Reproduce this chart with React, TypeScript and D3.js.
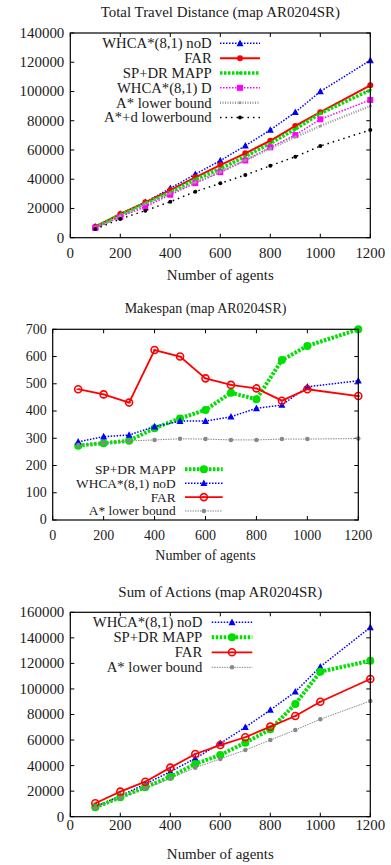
import React from 'react';
import * as d3 from 'd3';

// number of agents (x)
const agents = [100, 200, 300, 400, 500, 600, 700, 800, 900, 1000, 1200];

// Total Travel Distance
const distWhcaNoD = [7500, 16200, 24200, 33800, 43400, 52700, 62900, 73700, 85800, 100000, 121300];
const distFar = [7500, 16200, 24200, 32600, 41300, 49700, 57700, 66300, 76400, 85800, 104200];
const distSpdr = [7200, 15500, 23500, 31000, 39800, 47200, 55500, 64500, 74200, 85000, 101000];
const distWhcaD = [6600, 14200, 21200, 29400, 37300, 44800, 52800, 61800, 70200, 81000, 94200];
const distAstar = [7000, 14800, 23000, 30400, 38000, 45000, 53000, 61000, 68800, 76400, 90100];
const distAstarD = [5900, 12800, 18500, 24600, 31500, 37200, 42900, 49200, 55400, 62700, 73700];

// Makespan
const mkSpdr = [273, 282, 291, 337, 373, 404, 467, 443, 587, 639, 700];
const mkWhcaNoD = [287, 306, 312, 343, 363, 363, 379, 410, 422, 489, 511];
const mkFar = [480, 461, 431, 624, 600, 520, 496, 483, 438, 480, 455];
const mkAstar = [275, 283, 290, 294, 298, 297, 294, 294, 297, 297, 299];

// Sum of Actions
const actWhcaNoD = [7800, 16200, 25600, 35200, 45700, 57400, 70000, 83500, 97800, 117400, 148200];
const actSpdr = [7400, 15200, 23000, 31300, 41300, 48300, 57900, 68400, 88200, 113500, 122100];
const actFar = [10500, 19600, 27400, 38400, 49100, 56100, 62200, 70500, 78800, 90000, 107800];
const actAstar = [7000, 14900, 22200, 30000, 38400, 45200, 52200, 60000, 67900, 76300, 90600];

const xTicks = [0, 200, 400, 600, 800, 1000, 1200];

type Marker = 'tri' | 'dot' | 'ring' | 'square';
interface Series {
  name: string;
  values: number[];
  color: string;
  width: number;
  dash: string | null;
  marker: Marker;
  size: number;
}

interface PanelCfg {
  title: string;
  series: Series[];
  yMax: number;
  yStep: number;
  x0: number; x1: number; y0: number; y1: number;
  titleY: number; tickY: number; labelY: number;
  legX: number; legL0: number; legL1: number; legY: number; legStep: number;
  fs: number; legFs: number;
}

const FONT = '"Liberation Serif", "Times New Roman", serif';
const SX = 1.03;

function Txt({x, y, anchor, size, children}: any) {
  return (
    <text transform={`translate(${x},${y}) scale(${SX},1)`} textAnchor={anchor}
          dominantBaseline="central" fontFamily={FONT} fontSize={size} fill="#1a1a1a">
      {children}
    </text>
  );
}

function drawMarker(m: Marker, x: number, y: number, color: string, s: number, key: any) {
  if (m === 'tri') {
    const h = s * 0.9;
    return <path key={key} d={`M${x},${y - h * 0.6}L${x + s / 2},${y + h * 0.45}L${x - s / 2},${y + h * 0.45}Z`} fill={color}/>;
  }
  if (m === 'square') {
    return <rect key={key} x={x - s / 2} y={y - s / 2} width={s} height={s} fill={color}/>;
  }
  if (m === 'ring') {
    return (
      <g key={key}>
        <circle cx={x} cy={y} r={s / 2} fill="none" stroke={color} strokeWidth={1.6}/>
        <line x1={x - s / 4} x2={x + s / 4} y1={y} y2={y} stroke={color} strokeWidth={1.2}/>
      </g>
    );
  }
  return <circle key={key} cx={x} cy={y} r={s / 2} fill={color}/>;
}

function Panel({cfg}: {cfg: PanelCfg}) {
  const x = d3.scaleLinear().domain([0, 1200]).range([cfg.x0, cfg.x1]);
  const y = d3.scaleLinear().domain([0, cfg.yMax]).range([cfg.y1, cfg.y0]);
  const yTicks = d3.range(0, cfg.yMax + 1, cfg.yStep);
  const line = d3.line<number>().x((_, i) => x(agents[i])).y(d => y(d));
  const tl = 4;
  const legMid = (cfg.legL0 + cfg.legL1) / 2;
  return (
    <g>
      <Txt x={(cfg.x0 + cfg.x1) / 2} y={cfg.titleY} anchor="middle" size={cfg.fs}>{cfg.title}</Txt>
      {/* ticks */}
      {xTicks.map(t => (
        <g key={'x' + t}>
          <line x1={x(t)} x2={x(t)} y1={cfg.y1} y2={cfg.y1 - tl} stroke="#000"/>
          <line x1={x(t)} x2={x(t)} y1={cfg.y0} y2={cfg.y0 + tl} stroke="#000"/>
          <Txt x={x(t)} y={cfg.tickY} anchor="middle" size={cfg.fs}>{t}</Txt>
        </g>
      ))}
      {yTicks.map(t => (
        <g key={'y' + t}>
          <line x1={cfg.x0} x2={cfg.x0 + tl} y1={y(t)} y2={y(t)} stroke="#000"/>
          <line x1={cfg.x1} x2={cfg.x1 - tl} y1={y(t)} y2={y(t)} stroke="#000"/>
          <Txt x={cfg.x0 - 6} y={y(t)} anchor="end" size={cfg.fs}>{t}</Txt>
        </g>
      ))}
      <Txt x={(cfg.x0 + cfg.x1) / 2} y={cfg.labelY} anchor="middle" size={cfg.fs}>Number of agents</Txt>
      {/* series */}
      {cfg.series.map((s, si) => (
        <g key={s.name}>
          <path d={line(s.values) || ''} fill="none" stroke={s.color} strokeWidth={s.width}
                strokeDasharray={s.dash || undefined}/>
          {s.values.map((v, i) => drawMarker(s.marker, x(agents[i]), y(v), s.color, s.size, i))}
          {/* legend */}
          <Txt x={cfg.legX} y={cfg.legY + si * cfg.legStep} anchor="end" size={cfg.legFs}>{s.name}</Txt>
          <line x1={cfg.legL0} x2={cfg.legL1} y1={cfg.legY + si * cfg.legStep} y2={cfg.legY + si * cfg.legStep}
                stroke={s.color} strokeWidth={s.width} strokeDasharray={s.dash || undefined}/>
          {drawMarker(s.marker, legMid, cfg.legY + si * cfg.legStep, s.color, s.size, 'leg')}
        </g>
      ))}
      <rect x={cfg.x0} y={cfg.y0} width={cfg.x1 - cfg.x0} height={cfg.y1 - cfg.y0} fill="none" stroke="#000" strokeWidth={1.2}/>
    </g>
  );
}

const BLUE = '#0000ff';
const RED = '#ff0000';
const GREEN = '#00e000';
const MAGENTA = '#ff00ff';
const GRAY = '#888888';

const panels: PanelCfg[] = [
  {
    title: 'Total Travel Distance (map AR0204SR)',
    series: [
      {name: 'WHCA*(8,1) noD', values: distWhcaNoD, color: BLUE, width: 1.5, dash: '1.5,1.5', marker: 'tri', size: 7},
      {name: 'FAR', values: distFar, color: RED, width: 2, dash: null, marker: 'dot', size: 6},
      {name: 'SP+DR MAPP', values: distSpdr, color: GREEN, width: 3.5, dash: '2.5,1.5', marker: 'dot', size: 3},
      {name: 'WHCA*(8,1) D', values: distWhcaD, color: MAGENTA, width: 1.5, dash: '1.5,1.5', marker: 'square', size: 6},
      {name: 'A* lower bound', values: distAstar, color: '#999999', width: 2.5, dash: '1,1.5', marker: 'dot', size: 3},
      {name: 'A*+d lowerbound', values: distAstarD, color: '#000000', width: 1.5, dash: '1.5,4', marker: 'dot', size: 4},
    ],
    yMax: 140000, yStep: 20000,
    x0: 70.3, x1: 370.3, y0: 33, y1: 237.7,
    titleY: 12, tickY: 253, labelY: 275,
    legX: 211.7, legL0: 220, legL1: 260, legY: 43.3, legStep: 14.85,
    fs: 14.5, legFs: 14.3,
  },
  {
    title: 'Makespan (map AR0204SR)',
    series: [
      {name: 'SP+DR MAPP', values: mkSpdr, color: GREEN, width: 4, dash: '2.5,1.5', marker: 'dot', size: 8},
      {name: 'WHCA*(8,1) noD', values: mkWhcaNoD, color: BLUE, width: 1.5, dash: '1.5,1.5', marker: 'tri', size: 7},
      {name: 'FAR', values: mkFar, color: RED, width: 1.8, dash: null, marker: 'ring', size: 7},
      {name: 'A* lower bound', values: mkAstar, color: GRAY, width: 1, dash: '1.5,1', marker: 'dot', size: 4.5},
    ],
    yMax: 700, yStep: 100,
    x0: 52.7, x1: 358.3, y0: 329.3, y1: 520,
    titleY: 309, tickY: 536, labelY: 556,
    legX: 175.7, legL0: 185, legL1: 222.7, legY: 469.3, legStep: 13.9,
    fs: 13.6, legFs: 13,
  },
  {
    title: 'Sum of Actions (map AR0204SR)',
    series: [
      {name: 'WHCA*(8,1) noD', values: actWhcaNoD, color: BLUE, width: 1.5, dash: '1.5,1.5', marker: 'tri', size: 7},
      {name: 'SP+DR MAPP', values: actSpdr, color: GREEN, width: 4, dash: '2.5,1.5', marker: 'dot', size: 8},
      {name: 'FAR', values: actFar, color: RED, width: 1.8, dash: null, marker: 'ring', size: 7},
      {name: 'A* lower bound', values: actAstar, color: GRAY, width: 1, dash: '1.5,1', marker: 'dot', size: 4.5},
    ],
    yMax: 160000, yStep: 20000,
    x0: 70.3, x1: 370.3, y0: 612.3, y1: 816.7,
    titleY: 591.7, tickY: 825, labelY: 854,
    legX: 202.3, legL0: 211.7, legL1: 252.3, legY: 622.3, legStep: 15,
    fs: 14.5, legFs: 14.3,
  },
];

export default function App() {
  return (
    <div style={{position: 'absolute', left: 0, top: 0}}>
      <svg width={391} height={865} style={{display: 'block', background: '#fff'}}>
        {panels.map((p, i) => <Panel key={i} cfg={p}/>)}
      </svg>
    </div>
  );
}
